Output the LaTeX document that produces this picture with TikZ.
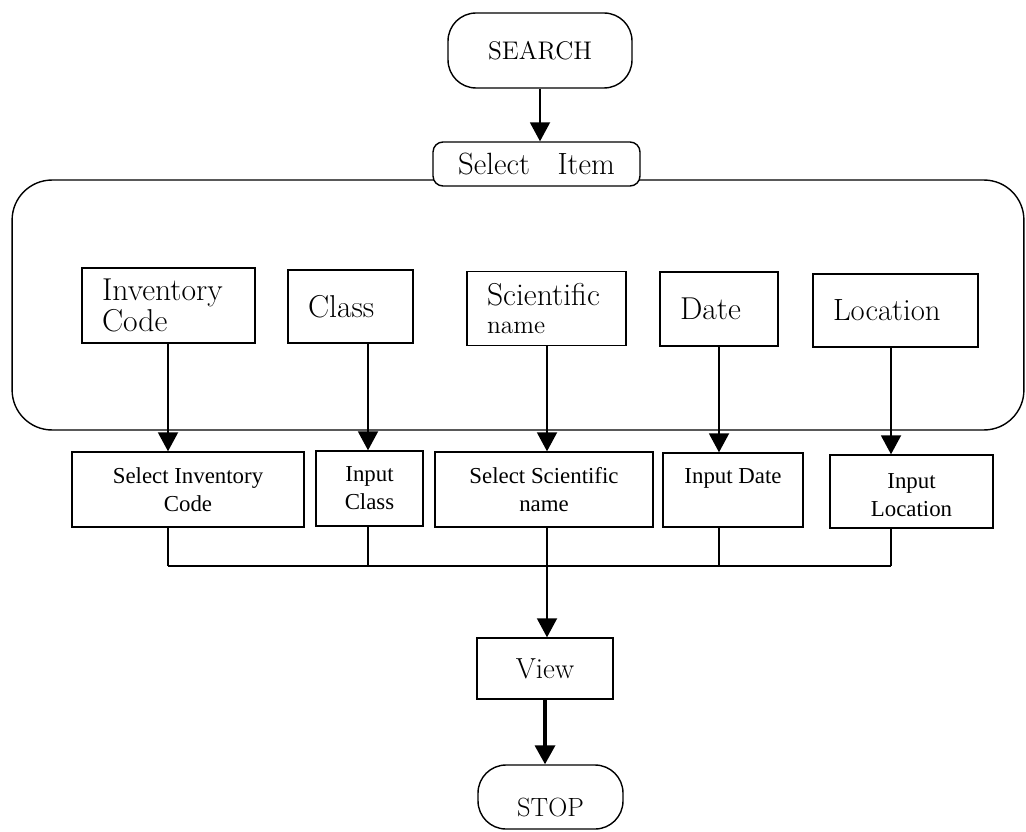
\documentclass[tikz,border=0pt]{standalone}
\usepackage{fontspec}
\newfontfamily\lowfont{Liberation Serif}
\usetikzlibrary{arrows.meta}
\tikzset{
  ubox/.style={draw, line width=0.8pt, align=left, inner xsep=0.4cm, inner ysep=2pt, font=\fontsize{18}{15}\selectfont},
  lbox/.style={draw, line width=0.8pt, align=center, inner sep=2pt, font=\lowfont\fontsize{13}{16}\selectfont},
  term/.style={draw, line width=0.8pt, rounded corners=0.56cm, fill=white},
  plainbox/.style={draw, line width=0.8pt, fill=white},
  arr/.style={line width=1.1pt, -{Triangle[width=0.4cm,length=0.38cm]}},
  wire/.style={line width=0.9pt},
}
\begin{document}
\begin{tikzpicture}[x=0.02cm, y=-0.02cm]
\useasboundingbox (0,0) rectangle (1026,831);
% outer frame
\node[draw, line width=0.8pt, rounded corners=0.8cm, minimum width=20.24cm, minimum height=5cm] (frame) at (518,305) {};
% terminals and select
\node[term, minimum width=3.68cm, minimum height=1.5cm, font=\fontsize{14.5}{16}\selectfont] (search) at (540,50.5) {SEARCH};
\node[plainbox, rounded corners=0.2cm, minimum width=4.14cm, minimum height=0.88cm, font=\fontsize{17.5}{18}\selectfont] (selitem) at (536.5,164) {Select\hspace{0.9em}Item};
% upper boxes
\node[ubox, text width=2.66cm, minimum height=1.5cm] (inv) at (168.5,305.5) {Inventory\\Code};
\node[ubox, text width=1.7cm, minimum height=1.46cm] (cls) at (350.5,306.5) {Class};
\node[ubox, text width=2.38cm, minimum height=1.48cm] (sci) at (546.5,308.5) {Scientific\\[1pt]{\fontsize{14.5}{14}\selectfont name}};
\node[ubox, text width=1.56cm, minimum height=1.48cm] (date) at (719,309) {Date};
\node[ubox, text width=2.5cm, minimum height=1.46cm, font=\fontsize{17.5}{15}\selectfont] (loc) at (895.5,310.5) {Location};
% lower boxes
\node[lbox, minimum width=4.64cm, minimum height=1.5cm] (linv) at (188,489.5) {Select Inventory\\Code};
\node[lbox, minimum width=2.14cm, minimum height=1.5cm] (lcls) at (369.5,488.5) {Input\\Class};
\node[lbox, minimum width=4.36cm, minimum height=1.5cm] (lsci) at (544,489.5) {Select Scientific\\name};
\node[lbox, minimum width=2.8cm, minimum height=1.48cm] (ldate) at (733,490) {Input Date\\\mbox{}};
\node[lbox, minimum width=3.26cm, minimum height=1.46cm] (lloc) at (911.5,491.5) {\raisebox{-0.08cm}[\height][\depth]{Input}\\\raisebox{-0.08cm}[\height][\depth]{Location}};
% view and stop
\node[plainbox, minimum width=2.72cm, minimum height=1.22cm, font=\fontsize{16.5}{18}\selectfont] (view) at (545,668.5) {View};
\node[term, minimum width=2.9cm, minimum height=1.28cm, font=\fontsize{15}{16}\selectfont] (stop) at (550.5,797) {\raisebox{-0.2cm}[\height][\depth]{STOP}};
% bus coordinates
\coordinate (c1) at (168,566);
\coordinate (c2) at (368,566);
\coordinate (c3) at (547,566);
\coordinate (c4) at (719,566);
\coordinate (c5) at (891,566);
% connectors
\draw[arr] (search.south) -- (search.south |- selitem.north);
\draw[arr] (c1 |- inv.south) -- (c1 |- linv.north);
\draw[arr] (c2 |- cls.south) -- (c2 |- lcls.north);
\draw[arr] (c3 |- sci.south) -- (c3 |- lsci.north);
\draw[arr] (c4 |- date.south) -- (c4 |- ldate.north);
\draw[arr] (c5 |- loc.south) -- (c5 |- lloc.north);
\draw[wire] (c1 |- linv.south) -- (c1);
\draw[wire] (c2 |- lcls.south) -- (c2);
\draw[wire] (c3 |- lsci.south) -- (c3);
\draw[wire] (c4 |- ldate.south) -- (c4);
\draw[wire] (c5 |- lloc.south) -- (c5);
\draw[wire] (c1) -- (c5);
\draw[arr] (c3) -- (c3 |- view.north);
\draw[arr, line width=2pt] (view.south) -- (view.south |- stop.north);
\end{tikzpicture}
\end{document}
